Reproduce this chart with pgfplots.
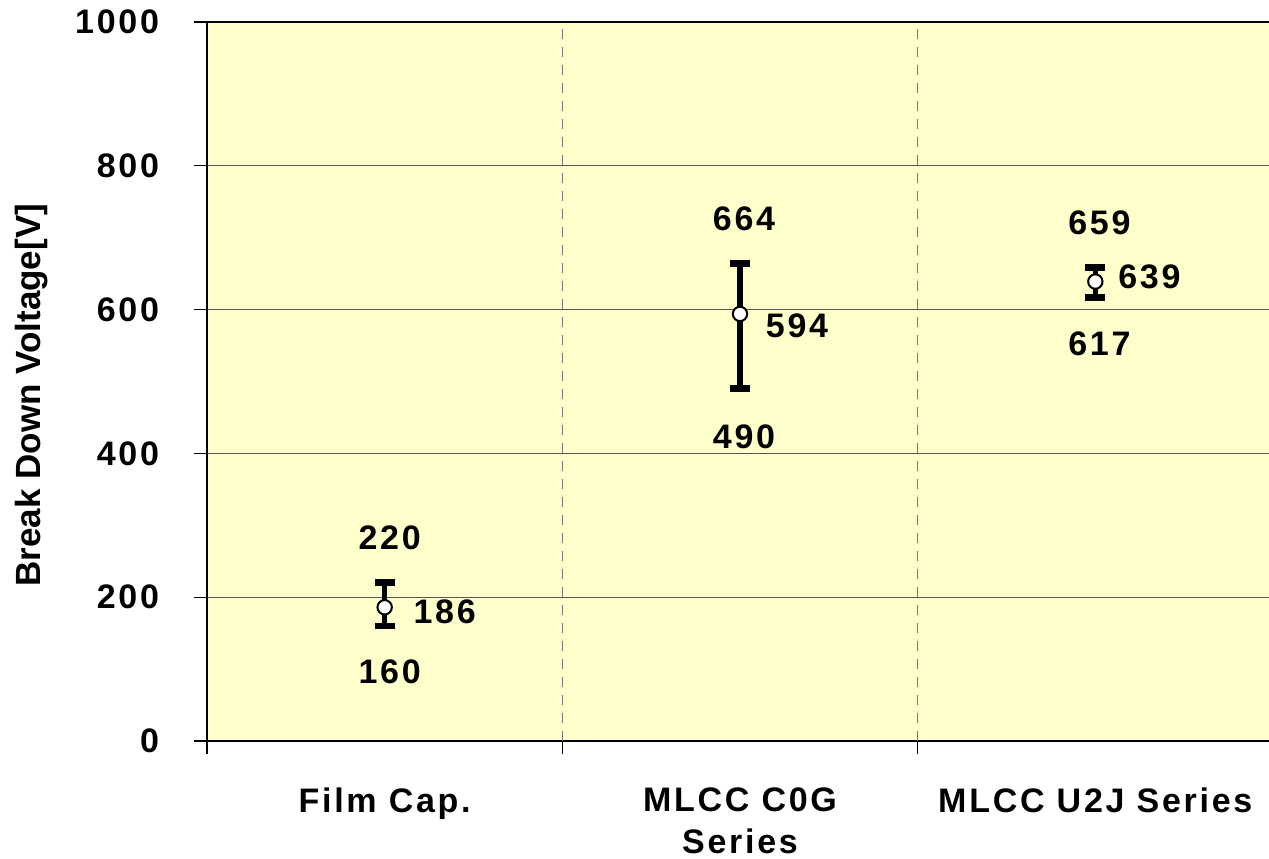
\documentclass[border=0pt]{standalone}
\usepackage{fontspec}
\setmainfont{Liberation Sans}[LetterSpace=8]
\usepackage{pgfplots}
\pgfplotsset{compat=1.18}
\definecolor{plotbg}{HTML}{FFFFCC}
\definecolor{gridgray}{HTML}{555555}
\definecolor{dashgray}{HTML}{777777}

\begin{document}
\begin{tikzpicture}
\newcommand{\lbl}{\fontsize{17pt}{21pt}\selectfont\bfseries}
\begin{axis}[
  name=ax,
  scale only axis,
  width=533pt, height=359.5pt,
  xmin=0, xmax=3,
  ymin=0, ymax=1000,
  ytick={0,200,...,1000},
  xtick={0,1,2},
  xticklabels={},
  extra x ticks={0.5,1.5,2.5},
  extra x tick labels={Film Cap., MLCC C0G\\Series, MLCC U2J Series},
  extra x tick style={major tick length=0pt, grid=none,
    tick label style={align=center, yshift=-20pt}},
  tick align=outside,
  major tick length=6.5pt,
  xtick pos=bottom, ytick pos=left,
  tick style={black, line width=0.6pt},
  ymajorgrids,
  grid style={gridgray, line width=0.6pt, solid},
  axis line style={black, line width=1.1pt},
  axis background/.style={fill=plotbg},
  /pgf/number format/assume math mode=true,
  /pgf/number format/1000 sep={},
  tick label style={font=\lbl},
  y tick label style={xshift=-14pt},
  ylabel={Break Down Voltage[V]},
  ylabel style={font=\fontsize{17.5pt}{21pt}\selectfont\bfseries\addfontfeatures{LetterSpace=0},
    at={(axis description cs:-0.165,0.481)}, anchor=center},
  clip=false,
]
\draw[dashgray, dashed, line width=0.6pt, dash pattern=on 5pt off 4pt]
  (axis cs:1,0) -- (axis cs:1,1000) (axis cs:2,0) -- (axis cs:2,1000);
\addplot[only marks, black, mark=*, mark size=3.6pt,
  mark options={fill=white, draw=black, line width=1pt},
  error bars/.cd, y dir=both, y explicit,
  error bar style={line width=2.6pt, black},
  error mark options={rotate=90, mark size=5pt, line width=3.4pt, black}]
  coordinates {
    (0.5,186) += (0,34) -= (0,26)
    (1.5,594) += (0,70) -= (0,104)
    (2.5,639) += (0,20) -= (0,22)
  };
% value labels
\node[font=\lbl] at (axis cs:0.5,220) [xshift=2.5pt, yshift=22.5pt] {220};
\node[font=\lbl] at (axis cs:0.5,160) [xshift=2.5pt, yshift=-23pt] {160};
\node[font=\lbl] at (axis cs:0.5,186) [xshift=30pt, yshift=-2.5pt] {186};
\node[font=\lbl] at (axis cs:1.5,664) [xshift=2pt, yshift=22.5pt] {664};
\node[font=\lbl] at (axis cs:1.5,490) [xshift=2pt, yshift=-24pt] {490};
\node[font=\lbl] at (axis cs:1.5,594) [xshift=28.5pt, yshift=-6pt] {594};
\node[font=\lbl] at (axis cs:2.5,659) [xshift=2pt, yshift=22pt] {659};
\node[font=\lbl] at (axis cs:2.5,617) [xshift=2pt, yshift=-23pt] {617};
\node[font=\lbl] at (axis cs:2.5,639) [xshift=27pt, yshift=2.5pt] {639};
\end{axis}
\pgfresetboundingbox
\path[use as bounding box] ([xshift=-103.5pt,yshift=-58.5pt]ax.south west)
  rectangle ([xshift=531pt,yshift=11pt]ax.north west);
\end{tikzpicture}
\end{document}
